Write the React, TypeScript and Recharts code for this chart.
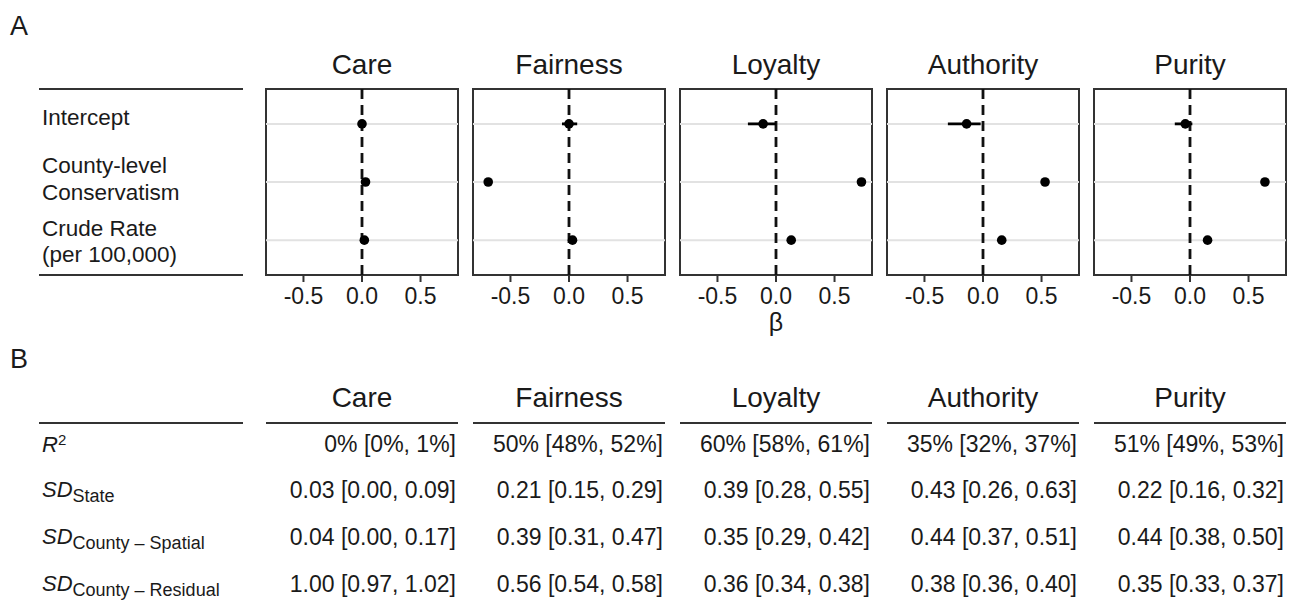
import { ScatterChart, Scatter, XAxis, YAxis, ErrorBar, ReferenceLine, ReferenceArea } from "recharts";

const FOUNDATIONS = ["Care", "Fairness", "Loyalty", "Authority", "Purity"];
const PREDICTOR_LINES = [["Intercept"], ["County-level", "Conservatism"], ["Crude Rate", "(per 100,000)"]];
const X_TICKS = [-0.5, 0, 0.5];

// posterior estimates + 95% intervals, rows: intercept, conservatism, crude rate
const CARE_EST = [0.0, 0.03, 0.02];
const CARE_LO = [-0.02, 0.01, 0.0];
const CARE_HI = [0.02, 0.05, 0.04];

const FAIRNESS_EST = [0.0, -0.69, 0.03];
const FAIRNESS_LO = [-0.06, -0.71, 0.01];
const FAIRNESS_HI = [0.07, -0.67, 0.05];

const LOYALTY_EST = [-0.11, 0.73, 0.13];
const LOYALTY_LO = [-0.24, 0.71, 0.11];
const LOYALTY_HI = [0.0, 0.75, 0.15];

const AUTHORITY_EST = [-0.14, 0.53, 0.16];
const AUTHORITY_LO = [-0.3, 0.51, 0.14];
const AUTHORITY_HI = [-0.02, 0.55, 0.18];

const PURITY_EST = [-0.04, 0.64, 0.15];
const PURITY_LO = [-0.13, 0.62, 0.13];
const PURITY_HI = [0.02, 0.66, 0.17];

// table B
const R2 = ["0% [0%, 1%]", "50% [48%, 52%]", "60% [58%, 61%]", "35% [32%, 37%]", "51% [49%, 53%]"];
const SD_STATE = ["0.03 [0.00, 0.09]", "0.21 [0.15, 0.29]", "0.39 [0.28, 0.55]", "0.43 [0.26, 0.63]", "0.22 [0.16, 0.32]"];
const SD_SPATIAL = ["0.04 [0.00, 0.17]", "0.39 [0.31, 0.47]", "0.35 [0.29, 0.42]", "0.44 [0.37, 0.51]", "0.44 [0.38, 0.50]"];
const SD_RESIDUAL = ["1.00 [0.97, 1.02]", "0.56 [0.54, 0.58]", "0.36 [0.34, 0.38]", "0.38 [0.36, 0.40]", "0.35 [0.33, 0.37]"];

const SERIES = [
  { est: CARE_EST, lo: CARE_LO, hi: CARE_HI },
  { est: FAIRNESS_EST, lo: FAIRNESS_LO, hi: FAIRNESS_HI },
  { est: LOYALTY_EST, lo: LOYALTY_LO, hi: LOYALTY_HI },
  { est: AUTHORITY_EST, lo: AUTHORITY_LO, hi: AUTHORITY_HI },
  { est: PURITY_EST, lo: PURITY_LO, hi: PURITY_HI },
];

const FONT = '"Liberation Sans", Arial, sans-serif';
const INK = "#1a1a1a";
const RULE = "#333";
const X_MIN = -0.82;
const X_MAX = 0.82;
const PANEL_LEFT = 266;
const PANEL_STEP = 207;
const PANEL_W = 192;
const PANEL_TOP = 89;
const PANEL_H = 186;
const PAD = 4;
const CHART_H = 260;
const AXIS_H = 30;

const panelLeft = (i: number) => PANEL_LEFT + i * PANEL_STEP;

const Dot = (p: any) => <circle cx={p.cx} cy={p.cy} r={4.8} fill="#000" />;

function Panel({ idx }: { idx: number }) {
  const s = SERIES[idx];
  const data = s.est.map((e, i) => ({ row: i + 1, est: e, err: [e - s.lo[i], s.hi[i] - e] }));
  return (
    <div style={{ position: "absolute", left: panelLeft(idx) - PAD, top: PANEL_TOP - PAD }}>
      <ScatterChart
        width={PANEL_W + 2 * PAD}
        height={CHART_H}
        margin={{ top: PAD, right: PAD, left: PAD, bottom: CHART_H - PAD - PANEL_H - AXIS_H }}
      >
        <XAxis
          type="number"
          dataKey="est"
          domain={[X_MIN, X_MAX]}
          ticks={X_TICKS}
          interval={0}
          allowDataOverflow
          height={AXIS_H}
          axisLine={false}
          tickLine={{ stroke: RULE, strokeWidth: 2 }}
          tickSize={7}
          tickMargin={6}
          tick={{ fontSize: 23, fill: INK }}
          tickFormatter={(v) => Number(v).toFixed(1)}
          label={idx === 2 ? { value: "β", position: "bottom", offset: 8, fontSize: 25, fill: INK } : undefined}
        />
        <YAxis type="number" dataKey="row" domain={[0.4, 3.6]} reversed hide width={0} />
        {[1, 2, 3].map((r) => (
          <ReferenceLine key={r} y={r} stroke="#e2e2e2" strokeWidth={2} />
        ))}
        <ReferenceLine x={0} stroke="#111" strokeWidth={2.8} strokeDasharray="10 6" />
        <ReferenceArea x1={X_MIN} x2={X_MAX} y1={0.4} y2={3.6} fill="none" stroke={RULE} strokeWidth={2} ifOverflow="visible" />
        <Scatter data={data} isAnimationActive={false} shape={Dot}>
          <ErrorBar dataKey="err" direction="x" width={0} strokeWidth={2.8} stroke="#000" />
        </Scatter>
      </ScatterChart>
    </div>
  );
}

const LABEL_BASELINES = [[125], [173, 200], [236, 262]];
const TABLE_BASELINES = [452, 498, 545, 592];

export default function App() {
  const tableRows = [R2, SD_STATE, SD_SPATIAL, SD_RESIDUAL];
  const subs = ["State", "County – Spatial", "County – Residual"];
  return (
    <div style={{ position: "absolute", left: 0, top: 0, width: 1293, height: 605, background: "#fff", fontFamily: FONT }}>
      {FOUNDATIONS.map((f, i) => (
        <Panel key={f} idx={i} />
      ))}
      <svg width={1293} height={605} style={{ position: "absolute", left: 0, top: 0, pointerEvents: "none" }} fontFamily={FONT} fill={INK}>
        <text x={10} y={35} fontSize={27}>A</text>
        {FOUNDATIONS.map((f, i) => (
          <text key={f} x={panelLeft(i) + PANEL_W / 2} y={74} textAnchor="middle" fontSize={28}>{f}</text>
        ))}
        <line x1={39} x2={243} y1={PANEL_TOP} y2={PANEL_TOP} stroke={RULE} strokeWidth={2} />
        <line x1={39} x2={243} y1={PANEL_TOP + PANEL_H} y2={PANEL_TOP + PANEL_H} stroke={RULE} strokeWidth={2} />
        {PREDICTOR_LINES.map((lines, r) =>
          lines.map((t, k) => (
            <text key={t} x={42} y={LABEL_BASELINES[r][k]} fontSize={22.5}>{t}</text>
          ))
        )}

        <text x={10} y={368} fontSize={27}>B</text>
        {FOUNDATIONS.map((f, i) => (
          <text key={"h" + f} x={panelLeft(i) + PANEL_W / 2} y={407} textAnchor="middle" fontSize={28}>{f}</text>
        ))}
        <line x1={39} x2={243} y1={423} y2={423} stroke={RULE} strokeWidth={2} />
        {FOUNDATIONS.map((f, i) => (
          <line key={"l" + f} x1={panelLeft(i)} x2={panelLeft(i) + PANEL_W} y1={423} y2={423} stroke={RULE} strokeWidth={2} />
        ))}
        <text x={42} y={TABLE_BASELINES[0]} fontSize={22}>
          <tspan fontStyle="italic">R</tspan>
          <tspan fontSize={15} dy={-7}>2</tspan>
        </text>
        {subs.map((s, k) => (
          <text key={s} x={42} y={TABLE_BASELINES[k + 1] - 1} fontSize={22}>
            <tspan fontStyle="italic">SD</tspan>
            <tspan fontSize={18} dy={5}>{s}</tspan>
          </text>
        ))}
        {tableRows.map((row, r) =>
          row.map((v, i) => (
            <text key={r + "-" + i} x={panelLeft(i) + PANEL_W - 2} y={TABLE_BASELINES[r]} textAnchor="end" fontSize={23}>{v}</text>
          ))
        )}
      </svg>
    </div>
  );
}
